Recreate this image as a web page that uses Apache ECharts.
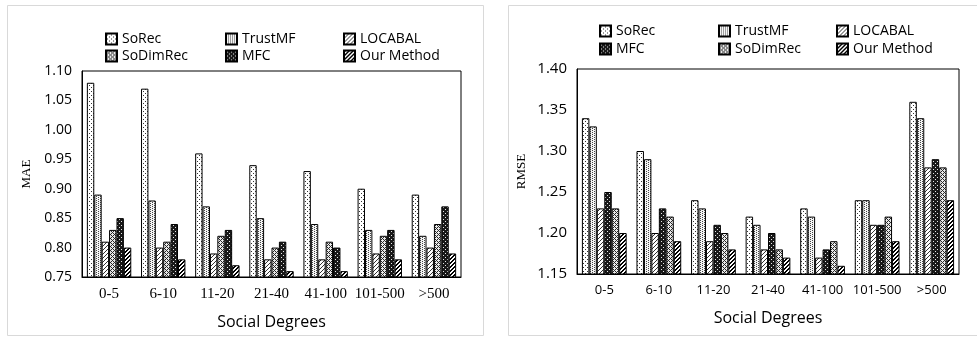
<!DOCTYPE html>
<html>
<head>
<meta charset="utf-8">
<script src="https://cdn.jsdelivr.net/npm/echarts@6/dist/echarts.min.js"></script>
<style>
html,body{margin:0;padding:0;background:#fff;}
#chart{width:977px;height:337px;}
</style>
</head>
<body>
<div id="chart"></div>
<script>
// ---- Data ----
const categories = ['0-5', '6-10', '11-20', '21-40', '41-100', '101-500', '>500'];

// MAE (left chart)
const maeYTicks = [0.75, 0.80, 0.85, 0.90, 0.95, 1.00, 1.05, 1.10];
const maeSoRec    = [1.08, 1.07, 0.96, 0.94, 0.93, 0.90, 0.89];
const maeTrustMF  = [0.89, 0.88, 0.87, 0.85, 0.84, 0.83, 0.82];
const maeLOCABAL  = [0.81, 0.80, 0.79, 0.78, 0.78, 0.79, 0.80];
const maeSoDimRec = [0.83, 0.81, 0.82, 0.80, 0.81, 0.82, 0.84];
const maeMFC      = [0.85, 0.84, 0.83, 0.81, 0.80, 0.83, 0.87];
const maeOurs     = [0.80, 0.78, 0.77, 0.76, 0.76, 0.78, 0.79];

// RMSE (right chart)
const rmseYTicks = [1.15, 1.20, 1.25, 1.30, 1.35, 1.40];
const rmseSoRec    = [1.34, 1.30, 1.24, 1.22, 1.23, 1.24, 1.36];
const rmseTrustMF  = [1.33, 1.29, 1.23, 1.21, 1.22, 1.24, 1.34];
const rmseLOCABAL  = [1.23, 1.20, 1.19, 1.18, 1.17, 1.21, 1.28];
const rmseMFC      = [1.25, 1.23, 1.21, 1.20, 1.18, 1.21, 1.29];
const rmseSoDimRec = [1.23, 1.22, 1.20, 1.18, 1.19, 1.22, 1.28];
const rmseOurs     = [1.20, 1.19, 1.18, 1.17, 1.16, 1.19, 1.24];

const maeLegendRows = [['SoRec', 'TrustMF', 'LOCABAL'], ['SoDimRec', 'MFC', 'Our Method']];
const rmseLegendRows = [['SoRec', 'TrustMF', 'LOCABAL'], ['MFC', 'SoDimRec', 'Our Method']];

// ---- Patterns ----
function makePattern(w, h, fn) {
  const c = document.createElement('canvas');
  c.width = w; c.height = h;
  const ctx = c.getContext('2d');
  const img = ctx.createImageData(w, h);
  for (let y = 0; y < h; y++) {
    for (let x = 0; x < w; x++) {
      const v = fn(x, y);
      const i = (y * w + x) * 4;
      img.data[i] = v; img.data[i + 1] = v; img.data[i + 2] = v; img.data[i + 3] = 255;
    }
  }
  ctx.putImageData(img, 0, 0);
  return { image: c, repeat: 'repeat' };
}
const patterns = {
  'SoRec': makePattern(4, 4, (x, y) => ((x === 1 && y === 1) || (x === 3 && y === 3)) ? 50 : 255),
  'TrustMF': makePattern(4, 2, (x, y) => ((x === 0 && y === 0) || (x === 2 && y === 1)) ? 70 : 245),
  'LOCABAL': makePattern(4, 4, (x, y) => ((x + y) % 4 === 0) ? 50 : 255),
  'SoDimRec': makePattern(4, 4, (x, y) => (((x + y) % 4 === 0) || ((x - y + 4) % 4 === 0)) ? 40 : 235),
  'MFC': makePattern(4, 4, (x, y) => ((x % 2 === 1) && (y % 2 === 1) && ((x + y) % 4 === 2)) ? 230 : 25),
  'Our Method': makePattern(4, 4, (x, y) => ((x + y) % 4 < 2) ? 0 : 255)
};

// ---- Build ----
const fontSans = '"Open Sans", "Noto Sans", sans-serif';
const fontSerif = '"Liberation Serif", "DejaVu Serif", serif';

function mkSeries(name, data, idx) {
  return {
    name: name, type: 'bar', data: data,
    xAxisIndex: idx, yAxisIndex: idx,
    barGap: '0%', barCategoryGap: '18%',
    itemStyle: { color: patterns[name], borderColor: '#000', borderWidth: 1 },
    emphasis: { disabled: true }
  };
}

const series = [
  mkSeries('SoRec', maeSoRec, 0),
  mkSeries('TrustMF', maeTrustMF, 0),
  mkSeries('LOCABAL', maeLOCABAL, 0),
  mkSeries('SoDimRec', maeSoDimRec, 0),
  mkSeries('MFC', maeMFC, 0),
  mkSeries('Our Method', maeOurs, 0),
  mkSeries('SoRec', rmseSoRec, 1),
  mkSeries('TrustMF', rmseTrustMF, 1),
  mkSeries('LOCABAL', rmseLOCABAL, 1),
  mkSeries('MFC', rmseMFC, 1),
  mkSeries('SoDimRec', rmseSoDimRec, 1),
  mkSeries('Our Method', rmseOurs, 1)
];

function mkLegends(rows, xs, ys) {
  const out = [];
  rows.forEach((row, r) => row.forEach((name, c) => {
    out.push({
      data: [name], left: xs[c], top: ys[r], padding: 0,
      icon: 'rect', itemWidth: 11, itemHeight: 11, itemGap: 0,
      selectedMode: false,
      textStyle: { fontFamily: fontSans, fontSize: 14, color: '#000' }
    });
  }));
  return out;
}

const legends = mkLegends(maeLegendRows, [105, 225, 343], [32, 49])
  .concat(mkLegends(rmseLegendRows, [599, 718, 836], [24, 42]));

const option = {
  animation: false,
  backgroundColor: '#fff',
  legend: legends,
  grid: [
    { left: 82, top: 71, width: 379, height: 206, show: true, borderColor: '#000', borderWidth: 1, backgroundColor: 'transparent' },
    { left: 577, top: 69, width: 382, height: 205, show: true, borderColor: '#000', borderWidth: 1, backgroundColor: 'transparent' }
  ],
  xAxis: [
    {
      type: 'category', data: categories, gridIndex: 0,
      axisLine: { lineStyle: { color: '#000' } }, axisTick: { show: false },
      axisLabel: { fontFamily: fontSerif, fontSize: 15, color: '#000', margin: 10, interval: 0 },
      name: 'Social Degrees', nameLocation: 'middle', nameGap: 37,
      nameTextStyle: { fontFamily: fontSans, fontSize: 16, color: '#000' }
    },
    {
      type: 'category', data: categories, gridIndex: 1,
      axisLine: { lineStyle: { color: '#000' } }, axisTick: { show: false },
      axisLabel: { fontFamily: fontSans, fontSize: 13, color: '#000', margin: 10, interval: 0 },
      name: 'Social Degrees', nameLocation: 'middle', nameGap: 36,
      nameTextStyle: { fontFamily: fontSans, fontSize: 16, color: '#000' }
    }
  ],
  yAxis: [
    {
      type: 'value', gridIndex: 0,
      min: maeYTicks[0], max: maeYTicks[maeYTicks.length - 1], interval: 0.05,
      splitLine: { show: false }, axisTick: { show: false },
      axisLine: { show: true, lineStyle: { color: '#000' } },
      axisLabel: { fontFamily: fontSans, fontSize: 14, color: '#000', margin: 10, formatter: v => v.toFixed(2) },
      name: 'MAE', nameLocation: 'middle', nameGap: 49, nameRotate: 90,
      nameTextStyle: { fontFamily: fontSerif, fontSize: 13, color: '#000' }
    },
    {
      type: 'value', gridIndex: 1,
      min: rmseYTicks[0], max: rmseYTicks[rmseYTicks.length - 1], interval: 0.05,
      splitLine: { show: false }, axisTick: { show: false },
      axisLine: { show: true, lineStyle: { color: '#000' } },
      axisLabel: { fontFamily: fontSans, fontSize: 15, color: '#000', margin: 10, formatter: v => v.toFixed(2) },
      name: 'RMSE', nameLocation: 'middle', nameGap: 49, nameRotate: 90,
      nameTextStyle: { fontFamily: fontSerif, fontSize: 13, color: '#000' }
    }
  ],
  graphic: [
    { type: 'rect', shape: { x: 7.5, y: 5.5, width: 476, height: 330 }, style: { fill: 'none', stroke: '#d9d9d9', lineWidth: 1 }, silent: true },
    { type: 'rect', shape: { x: 508.5, y: 5.5, width: 470, height: 330 }, style: { fill: 'none', stroke: '#d9d9d9', lineWidth: 1 }, silent: true }
  ],
  series: series
};

const chart = echarts.init(document.getElementById('chart'), null, { renderer: 'canvas' });
chart.setOption(option);
</script>
</body>
</html>
